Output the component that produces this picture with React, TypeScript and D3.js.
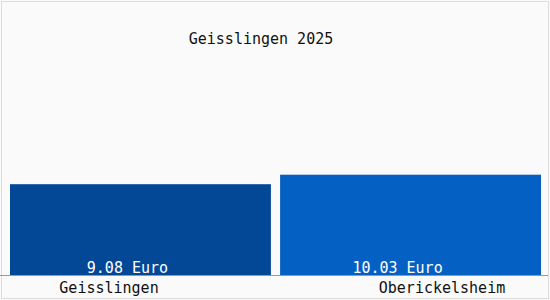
import React from "react";
import * as d3 from "d3";

const categories = ["Geisslingen", "Oberickelsheim"];
const values = [9.08, 10.03];
const valueLabels = ["9.08 Euro", "10.03 Euro"];
const colors = ["#034896", "#0461c3"];
const title = "Geisslingen 2025";

export default function App() {
  const W = 550, H = 300;
  const x = d3.scaleBand<string>().domain(categories).range([10, 541]).paddingInner(0.034).paddingOuter(0);
  const y = d3.scaleLinear().domain([0, 20]).range([275, 75]);
  const font = "'DejaVu Sans Mono', 'Liberation Mono', monospace";
  return (
    <svg width={W} height={H} style={{ position: "absolute", left: 0, top: 0, display: "block" }}>
      <rect x={0} y={0} width={W} height={H} fill="#fafafa" />
      <rect x={1.5} y={1.5} width={W - 3} height={H - 3} fill="none" stroke="#dddddd" />
      <text x={261} y={44} textAnchor="middle" fontFamily={font} fontSize={15} fill="#111">{title}</text>
      {categories.map((c, i) => (
        <g key={c}>
          <rect x={x(c)} y={y(values[i])} width={x.bandwidth()} height={y(0) - y(values[i])} fill={colors[i]} />
          <text x={(x(c) ?? 0) + x.bandwidth() / 2 - 13} y={273} textAnchor="middle" fontFamily={font} fontSize={15} fill="#ffffff">{valueLabels[i]}</text>
        </g>
      ))}
      <line x1={0} x2={548} y1={275.5} y2={275.5} stroke="#999" />
      <text x={109} y={293} textAnchor="middle" fontFamily={font} fontSize={15} fill="#111">{categories[0]}</text>
      <text x={442} y={293} textAnchor="middle" fontFamily={font} fontSize={15} fill="#111">{categories[1]}</text>
    </svg>
  );
}
